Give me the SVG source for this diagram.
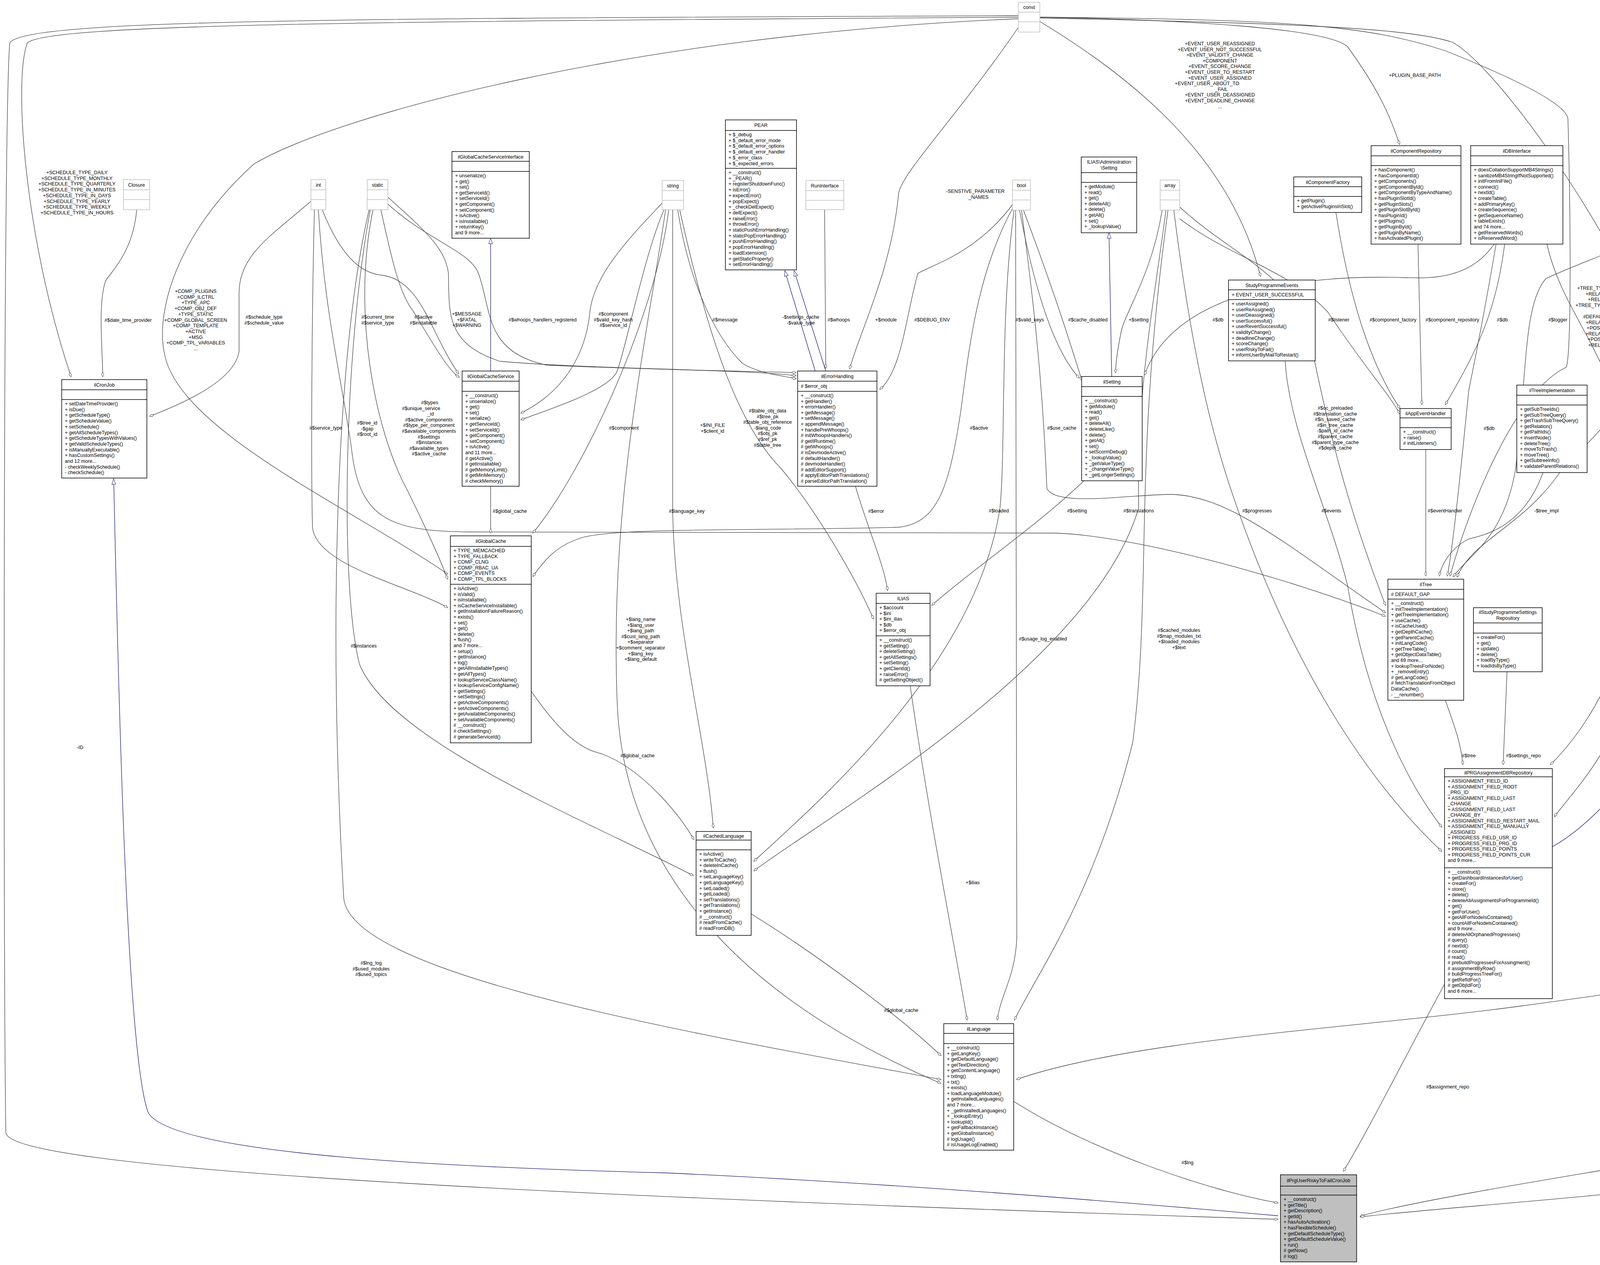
<svg xmlns="http://www.w3.org/2000/svg" width="4866" height="3239" viewBox="0 0 4866 3239">
<style>
text{font-family:"Liberation Sans",Arial,sans-serif;font-size:12.5px;fill:#000}
.h{text-anchor:middle}
.l{text-anchor:middle}
.b{fill:#fff;stroke:#000;stroke-width:1.5}
.g{fill:#fff;stroke:#bfbfbf;stroke-width:1.5}
.s{stroke:#000;stroke-width:1.5}
.sg{stroke:#bfbfbf;stroke-width:1.5}
.e{fill:none;stroke:#404040;stroke-width:1.3;marker-end:url(#d)}
.i{fill:none;stroke:#191970;stroke-width:1.3;marker-start:url(#t)}
</style>
<defs>
<marker id="d" viewBox="0 0 14 8" refX="13" refY="4" markerWidth="14" markerHeight="8" orient="auto" markerUnits="userSpaceOnUse"><path d="M1,4 L7,1 L13,4 L7,7 Z" fill="#fff" stroke="#404040"/></marker>
<marker id="t" viewBox="0 0 16 12" refX="15" refY="6" markerWidth="16" markerHeight="12" orient="auto-start-reverse" markerUnits="userSpaceOnUse"><path d="M1,1 L15,6 L1,11 Z" fill="#fff" stroke="#191970"/></marker>
</defs>
<rect width="4866" height="3239" fill="#fff"/>
<g id="connectors">
<path class="e" d="M2607,44 C1000,55 120,60 70,110 C35,200 60,600 182,965"/>
<path class="e" d="M2607,40 C900,48 60,48 25,110 C8,300 8,2500 15,2900 C20,2980 1000,3050 3272,3122"/>
<path class="e" d="M2607,48 C1600,90 850,300 650,420 C450,600 400,800 420,900 C450,1100 900,1300 1146,1470"/>
<path class="e" d="M2607,70 C2450,300 2300,450 2300,500 C2280,700 2200,850 2175,945"/>
<path class="e" d="M2662,55 C2900,200 3150,400 3227,708"/>
<path class="e" d="M2662,44 C3000,50 3400,70 3450,120 C3530,230 3560,300 3583,370"/>
<path class="e" d="M2662,44 C3300,50 3500,64 3700,130 C3950,230 4014,280 4014,306 C4022,600 4022,900 4010,940 C3880,1000 3760,1300 3712,1475"/>
<path class="e" d="M2662,46 C3300,60 3600,70 3718,108 C3850,180 4200,700 4230,900 C4260,1200 4230,1700 3969,1958"/>
<path class="e" d="M796,515 C700,600 612,650 612,750 L612,900 C600,980 450,1040 383,1066"/>
<path class="e" d="M825,537 C870,650 920,700 980,705 C1080,720 1100,850 1174,957"/>
<path class="e" d="M805,537 C798,800 796,1200 800,1350 C810,1450 1050,1500 1146,1556"/>
<path class="e" d="M815,537 C830,800 880,1000 900,1150 C920,1330 1000,1360 1200,1362 L2700,1365 C2900,1370 3300,1480 3547,1578"/>
<path class="e" d="M350,537 C340,650 280,700 270,720 C250,780 263,900 263,965"/>
<path class="e" d="M975,537 C1000,650 1020,750 1060,800 C1120,900 1150,950 1176,966"/>
<path class="e" d="M955,537 C900,800 960,1100 1040,1250 C1090,1350 1130,1440 1146,1483"/>
<path class="e" d="M948,537 C880,900 870,1500 920,1700 C1000,1900 1500,2100 1775,2242"/>
<path class="e" d="M945,537 C860,900 840,1600 880,2300 C900,2500 1800,2650 2409,2764"/>
<path class="e" d="M993,505 C1100,600 1140,640 1148,700 C1150,800 1140,880 1280,925 C1500,945 1900,945 2038,962"/>
<path class="e" d="M990,520 C1100,620 1200,640 1225,700 C1260,800 1240,900 1400,935 C1700,948 1900,950 2038,954"/>
<path class="e" d="M1695,520 C1620,600 1520,700 1510,800 C1500,900 1450,1000 1333,1058"/>
<path class="e" d="M1700,537 C1650,650 1600,900 1580,950 C1560,1000 1400,1050 1333,1075"/>
<path class="e" d="M1735,537 C1760,700 1820,850 1900,930 C1950,960 2000,960 2038,970"/>
<path class="e" d="M1740,537 C1820,900 1900,1100 2000,1200 C2100,1320 2200,1500 2236,1585"/>
<path class="e" d="M1712,537 C1680,800 1500,1200 1364,1365"/>
<path class="e" d="M1722,537 L1722,1300 C1725,1600 1810,1900 1826,2120"/>
<path class="e" d="M1704,537 C1650,900 1560,1300 1580,1800 C1600,2300 2000,2600 2409,2774"/>
<path class="e" d="M2330,1756 C2380,2100 2440,2400 2476,2612"/>
<path class="e" d="M2600,538 L2603,2400 C2600,2500 2560,2550 2553,2612"/>
<path class="e" d="M2990,538 C2900,1200 2950,1500 2900,1900 C2800,2300 2650,2500 2597,2612"/>
<path class="e" d="M1923,2340 C2100,2450 2300,2600 2409,2703"/>
<path class="e" d="M4540,611 C4550,1200 4551,1800 4551,2230 C4551,2500 4300,2520 3900,2575 C3500,2630 2900,2660 2602,2764"/>
<path class="e" d="M1360,1770 C1450,1900 1500,1920 1540,1930 C1650,1970 1750,2100 1776,2150"/>
<path class="e" d="M2596,538 C2560,800 2575,1150 2560,1300 C2500,1700 2100,2050 1930,2205"/>
<path class="e" d="M2985,538 C2950,800 2910,1000 2915,1300 C2800,1700 2100,2100 1930,2230"/>
<path class="e" d="M2610,538 C2650,750 2700,900 2763,968"/>
<path class="e" d="M2620,538 C2700,750 2740,880 2770,975"/>
<path class="e" d="M2975,538 C2950,700 2880,800 2870,850 C2860,900 2856,930 2856,955"/>
<path class="e" d="M3825,625 C3760,720 3650,712 3600,711 C3300,700 3000,760 2930,960"/>
<path class="e" d="M2595,520 C2500,650 2380,680 2350,700 C2320,800 2310,950 2252,997"/>
<path class="e" d="M2775,1231 C2650,1350 2500,1450 2385,1550"/>
<path class="e" d="M2190,1245 C2220,1350 2265,1450 2272,1512"/>
<path class="e" d="M2111,537 L2114,943"/>
<path class="e" d="M1256,1245 L1256,1365"/>
<path class="e" d="M2594,530 C2500,700 2480,900 2460,1050 C2430,1250 2400,1340 2300,1350 C1900,1360 1550,1350 1480,1380 C1420,1400 1390,1440 1364,1476"/>
<path class="e" d="M3650,1151 L3650,1475"/>
<path class="e" d="M3950,1210 C3900,1350 3800,1370 3760,1380 C3720,1400 3690,1440 3685,1475"/>
<path class="e" d="M3830,625 C3800,800 3780,900 3760,1000 C3740,1200 3720,1400 3705,1475"/>
<path class="e" d="M4396,523 C4200,620 4000,690 3957,714 C3900,780 3910,950 3880,1200 C3850,1380 3760,1420 3720,1477"/>
<path class="e" d="M4415,611 C4350,800 4250,900 4214,937 C4150,1050 4100,1100 4000,1200 C3900,1350 3770,1380 3730,1478"/>
<path class="e" d="M3020,530 C3150,650 3300,700 3350,850 C3400,1100 3450,1300 3547,1550"/>
<path class="e" d="M2615,538 C2650,800 2670,1000 2680,1250 C2700,1300 2900,1265 3000,1266 C3150,1270 3300,1400 3547,1569"/>
<path class="e" d="M3420,544 C3460,800 3520,950 3584,1046"/>
<path class="e" d="M3630,625 L3640,1036"/>
<path class="e" d="M3852,625 C3830,800 3780,900 3700,1036"/>
<path class="e" d="M3020,560 C3150,660 3300,690 3400,800 C3500,950 3550,1000 3584,1060"/>
<path class="e" d="M3700,1793 C3720,1850 3740,1900 3745,1958"/>
<path class="e" d="M3858,1720 L3848,1958"/>
<path class="e" d="M3290,924 C3300,1100 3400,1300 3450,1500 C3500,1800 3600,2000 3691,2118"/>
<path class="e" d="M3005,538 C3050,900 3100,1100 3150,1250 C3300,1700 3500,2000 3691,2180"/>
<path class="e" d="M3960,625 C4000,800 4120,900 4150,1100 C4200,1300 4200,1500 4180,1700 C4150,1900 4050,2000 3979,2091"/>
<path class="e" d="M3698,2520 C3600,2700 3500,2900 3439,2999"/>
<path class="e" d="M2595,2820 C2800,2950 3100,3050 3272,3080"/>
<path class="e" d="M4640,1347 L4625,2780 C4620,2900 4400,2950 4200,2980 C3900,3030 3600,3080 3482,3114"/>
<path class="e" d="M4750,2828 C4720,2920 4650,2990 4600,3000 C4200,3060 3700,3090 3482,3116"/>
<path class="e" d="M4452,82 L4452,383"/>
<path class="i" d="M291,1226 C300,1600 320,2700 380,2850 C450,2960 1200,2990 1700,3003 C2300,3030 2900,3080 3272,3113"/>
<path class="i" d="M2839,596 L2846,964"/>
<path class="i" d="M2009,693 L2087,950"/>
<path class="i" d="M2033,693 L2114,950"/>
<path class="i" d="M1256,610 L1256,950"/>
<path class="i" d="M4320,1764 C4250,1900 4100,2100 3974,2168"/>
<path class="i" d="M4507,613 C4570,800 4630,1000 4640,1271"/>
</g>
<g id="labels">
<text class="l" x="197" y="446"><tspan x="197">+SCHEDULE_TYPE_DAILY</tspan><tspan x="197" dy="14.7">+SCHEDULE_TYPE_MONTHLY</tspan><tspan x="197" dy="14.7">+SCHEDULE_TYPE_QUARTERLY</tspan><tspan x="197" dy="14.7">+SCHEDULE_TYPE_IN_MINUTES</tspan><tspan x="197" dy="14.7">+SCHEDULE_TYPE_IN_DAYS</tspan><tspan x="197" dy="14.7">+SCHEDULE_TYPE_YEARLY</tspan><tspan x="197" dy="14.7">+SCHEDULE_TYPE_WEEKLY</tspan><tspan x="197" dy="14.7">+SCHEDULE_TYPE_IN_HOURS</tspan></text>
<text class="l" x="328" y="824">#$date_time_provider</text>
<text class="l" x="501" y="750"><tspan x="501">+COMP_PLUGINS</tspan><tspan x="501" dy="14.7">+COMP_ILCTRL</tspan><tspan x="501" dy="14.7">+TYPE_APC</tspan><tspan x="501" dy="14.7">+COMP_OBJ_DEF</tspan><tspan x="501" dy="14.7">+TYPE_STATIC</tspan><tspan x="501" dy="14.7">+COMP_GLOBAL_SCREEN</tspan><tspan x="501" dy="14.7">+COMP_TEMPLATE</tspan><tspan x="501" dy="14.7">+ACTIVE</tspan><tspan x="501" dy="14.7">+MSG</tspan><tspan x="501" dy="14.7">+COMP_TPL_VARIABLES</tspan><tspan x="501" dy="14.7">...</tspan></text>
<text class="l" x="676" y="816"><tspan x="676">#$schedule_type</tspan><tspan x="676" dy="14.7">#$schedule_value</tspan></text>
<text class="l" x="967" y="816"><tspan x="967">#$current_time</tspan><tspan x="967" dy="14.7">#$service_type</tspan></text>
<text class="l" x="1084" y="816"><tspan x="1084">#$active</tspan><tspan x="1084" dy="14.7">#$installable</tspan></text>
<text class="l" x="1195" y="808"><tspan x="1195">+$MESSAGE</tspan><tspan x="1195" dy="14.7">+$FATAL</tspan><tspan x="1195" dy="14.7">+$WARNING</tspan></text>
<text class="l" x="1389" y="823">#$whoops_handlers_registered</text>
<text class="l" x="1570" y="808"><tspan x="1570">#$component</tspan><tspan x="1570" dy="14.7">#$valid_key_hash</tspan><tspan x="1570" dy="14.7">#$service_id</tspan></text>
<text class="l" x="1856" y="823">#$message</text>
<text class="l" x="2050" y="816"><tspan x="2050">-$settings_cache</tspan><tspan x="2050" dy="14.7">-$value_type</tspan></text>
<text class="l" x="2147" y="823">#$whoops</text>
<text class="l" x="2268" y="823">+$module</text>
<text class="l" x="2497" y="494"><tspan x="2497">-SENSTIVE_PARAMETER</tspan><tspan x="2505" dy="14.7">_NAMES</tspan></text>
<text class="l" x="3123" y="116"><tspan x="3123">+EVENT_USER_REASSIGNED</tspan><tspan x="3123" dy="14.6">+EVENT_USER_NOT_SUCCESSFUL</tspan><tspan x="3123" dy="14.6">+EVENT_VALIDITY_CHANGE</tspan><tspan x="3123" dy="14.6">+COMPONENT</tspan><tspan x="3123" dy="14.6">+EVENT_SCORE_CHANGE</tspan><tspan x="3123" dy="14.6">+EVENT_USER_TO_RESTART</tspan><tspan x="3123" dy="14.6">+EVENT_USER_ASSIGNED</tspan><tspan x="3090" dy="14.6">+EVENT_USER_ABOUT_TO</tspan><tspan x="3127" dy="14.6">_FAIL</tspan><tspan x="3123" dy="14.6">+EVENT_USER_DEASSIGNED</tspan><tspan x="3123" dy="14.6">+EVENT_DEADLINE_CHANGE</tspan><tspan x="3123" dy="14.6">...</tspan></text>
<text class="l" x="3622" y="197">+PLUGIN_BASE_PATH</text>
<text class="l" x="4480" y="197">-$logger</text>
<text class="l" x="2386" y="823">#$DEBUG_ENV</text>
<text class="l" x="2636" y="823">#$valid_keys</text>
<text class="l" x="2785" y="823">#$cache_disabled</text>
<text class="l" x="2915" y="823">+$setting</text>
<text class="l" x="3118" y="823">#$db</text>
<text class="l" x="3427" y="823">#$listener</text>
<text class="l" x="3566" y="823">#$component_factory</text>
<text class="l" x="3718" y="823">#$component_repository</text>
<text class="l" x="3846" y="823">#$db</text>
<text class="l" x="3988" y="823">#$logger</text>
<text class="l" x="4122" y="742"><tspan x="4122">+TREE_TYPE_NESTED_SET</tspan><tspan x="4122" dy="14.6">+RELATION_PARENT</tspan><tspan x="4122" dy="14.6">+RELATION_CHILD</tspan><tspan x="4122" dy="14.6">+TREE_TYPE_MATERIALIZED</tspan><tspan x="4122" dy="14.6">_PATH</tspan><tspan x="4122" dy="14.6">#DEFAULT_LANGUAGE</tspan><tspan x="4122" dy="14.6">+RELATION_SIBLING</tspan><tspan x="4122" dy="14.6">+POS_FIRST_NODE</tspan><tspan x="4122" dy="14.6">+RELATION_EQUALS</tspan><tspan x="4122" dy="14.6">+POS_LAST_NODE</tspan><tspan x="4122" dy="14.6">+RELATION_NONE</tspan><tspan x="4122" dy="14.6">...</tspan></text>
<text class="l" x="4359" y="983"><tspan x="4350">+DATE_FORMAT_ENDOFDAY</tspan><tspan x="4330" dy="14.7">+ASSIGNMENT_FIELD_USR</tspan><tspan x="4363" dy="14.7">_ID</tspan><tspan x="4359" dy="14.7">+PROGRESS_TABLE</tspan><tspan x="4305" dy="14.7">+ASSIGNMENT_FIELD</tspan><tspan x="4363" dy="14.7">_RESTART_DATE</tspan><tspan x="4355" dy="14.7">+ASSIGNMENT_TABLE</tspan><tspan x="4326" dy="14.7">+PROGRESS_FIELD_LAST</tspan><tspan x="4363" dy="14.7">_CHANGE</tspan><tspan x="4322" dy="14.7">+PROGRESS_FIELD_VQ</tspan><tspan x="4363" dy="14.7">_DATE</tspan><tspan x="4300" dy="14.7">+PROGRESS_FIELD</tspan><tspan x="4363" dy="14.7">_ASSIGNMENT_ID</tspan><tspan x="4359" dy="14.7">+PROGRESS_FIELD_DEADLINE</tspan><tspan x="4359" dy="14.7">+ASSIGNMENT_FIELD_RESTARTED</tspan><tspan x="4363" dy="14.7">_ASSIGNMENT_ID</tspan><tspan x="4359" dy="14.7">...</tspan></text>
<text class="l" x="834" y="1100">#$service_type</text>
<text class="l" x="940" y="1087"><tspan x="940">#$tree_id</tspan><tspan x="940" dy="14.6">-$gap</tspan><tspan x="940" dy="14.6">#$root_id</tspan></text>
<text class="l" x="1098" y="1035"><tspan x="1100">#$types</tspan><tspan x="1078" dy="14.6">#$unique_service</tspan><tspan x="1102" dy="14.6">_id</tspan><tspan x="1098" dy="14.6">#$active_components</tspan><tspan x="1098" dy="14.6">#$type_per_component</tspan><tspan x="1098" dy="14.6">#$available_components</tspan><tspan x="1098" dy="14.6">#$settings</tspan><tspan x="1098" dy="14.6">#$instances</tspan><tspan x="1098" dy="14.6">#$available_types</tspan><tspan x="1098" dy="14.6">#$active_cache</tspan></text>
<text class="l" x="1597" y="1100">#$component</text>
<text class="l" x="1824" y="1093"><tspan x="1824">+$INI_FILE</tspan><tspan x="1824" dy="14.6">+$client_id</tspan></text>
<text class="l" x="1965" y="1056"><tspan x="1965">#$table_obj_data</tspan><tspan x="1965" dy="14.6">#$tree_pk</tspan><tspan x="1965" dy="14.6">#$table_obj_reference</tspan><tspan x="1965" dy="14.6">-$lang_code</tspan><tspan x="1965" dy="14.6">#$obj_pk</tspan><tspan x="1965" dy="14.6">#$ref_pk</tspan><tspan x="1965" dy="14.6">#$table_tree</tspan></text>
<text class="l" x="2506" y="1100">#$active</text>
<text class="l" x="2718" y="1100">#$use_cache</text>
<text class="l" x="3418" y="1049"><tspan x="3418">#$oc_preloaded</tspan><tspan x="3418" dy="14.6">#$translation_cache</tspan><tspan x="3418" dy="14.6">#$is_saved_cache</tspan><tspan x="3418" dy="14.6">#$in_tree_cache</tspan><tspan x="3418" dy="14.6">-$path_id_cache</tspan><tspan x="3418" dy="14.6">#$parent_cache</tspan><tspan x="3418" dy="14.6">#$parent_type_cache</tspan><tspan x="3418" dy="14.6">#$depth_cache</tspan></text>
<text class="l" x="3812" y="1101">#$db</text>
<text class="l" x="4221" y="1101">#$logger</text>
<text class="l" x="1305" y="1313">#$global_cache</text>
<text class="l" x="1758" y="1313">#$language_key</text>
<text class="l" x="2243" y="1313">#$error</text>
<text class="l" x="2557" y="1312">#$loaded</text>
<text class="l" x="2757" y="1312">#$setting</text>
<text class="l" x="2915" y="1312">#$translations</text>
<text class="l" x="3218" y="1312">#$progresses</text>
<text class="l" x="3408" y="1312">#$events</text>
<text class="l" x="3699" y="1312">#$eventHandler</text>
<text class="l" x="3959" y="1312">-$tree_impl</text>
<text class="l" x="4197" y="1312">#$db</text>
<text class="l" x="1640" y="1590"><tspan x="1640">+$lang_name</tspan><tspan x="1640" dy="14.6">+$lang_user</tspan><tspan x="1640" dy="14.6">+$lang_path</tspan><tspan x="1640" dy="14.6">#$cust_lang_path</tspan><tspan x="1640" dy="14.6">+$separator</tspan><tspan x="1640" dy="14.6">+$comment_separator</tspan><tspan x="1640" dy="14.6">+$lang_key</tspan><tspan x="1640" dy="14.6">+$lang_default</tspan></text>
<text class="l" x="2670" y="1640">#$usage_log_enabled</text>
<text class="l" x="3018" y="1618"><tspan x="3018">#$cached_modules</tspan><tspan x="3018" dy="14.6">#$map_modules_txt</tspan><tspan x="3018" dy="14.6">+$loaded_modules</tspan><tspan x="3018" dy="14.6">+$text</tspan></text>
<text class="l" x="4571" y="1640">#$log</text>
<text class="l" x="931" y="1658">#$instances</text>
<text class="l" x="1632" y="1939">#$global_cache</text>
<text class="l" x="3760" y="1939">#$tree</text>
<text class="l" x="3900" y="1939">#$settings_repo</text>
<text class="l" x="205" y="1918">-ID</text>
<text class="l" x="2490" y="2264">+$ilias</text>
<text class="l" x="950" y="2470"><tspan x="950">#$lng_log</tspan><tspan x="950" dy="14.6">#$used_modules</tspan><tspan x="950" dy="14.6">#$used_topics</tspan></text>
<text class="l" x="2307" y="2591">#$global_cache</text>
<text class="l" x="4645" y="2265">#$log</text>
<text class="l" x="3706" y="2787">#$assignment_repo</text>
<text class="l" x="3040" y="2981">#$lng</text>
<text class="l" x="4690" y="2981">#$adapter</text>
</g>
<g id="const"><rect class="g" x="2607" y="6" width="55" height="76"/><line class="sg" x1="2607" y1="31" x2="2662" y2="31"/><line class="sg" x1="2607" y1="56" x2="2662" y2="56"/><text class="h" x="2634.5" y="23">const</text></g>
<g id="Logger"><rect class="g" x="4422" y="6" width="61" height="76"/><line class="sg" x1="4422" y1="31" x2="4483" y2="31"/><line class="sg" x1="4422" y1="56" x2="4483" y2="56"/><text class="h" x="4452.5" y="23">Logger</text></g>
<g id="Closure"><rect class="g" x="316" y="460" width="67" height="77"/><line class="sg" x1="316" y1="486" x2="383" y2="486"/><line class="sg" x1="316" y1="511" x2="383" y2="511"/><text class="h" x="349.5" y="478">Closure</text></g>
<g id="int"><rect class="g" x="796" y="460" width="38" height="77"/><line class="sg" x1="796" y1="486" x2="834" y2="486"/><line class="sg" x1="796" y1="511" x2="834" y2="511"/><text class="h" x="815" y="478">int</text></g>
<g id="static"><rect class="g" x="940" y="460" width="53" height="77"/><line class="sg" x1="940" y1="486" x2="993" y2="486"/><line class="sg" x1="940" y1="511" x2="993" y2="511"/><text class="h" x="966.5" y="478">static</text></g>
<g id="string"><rect class="g" x="1695" y="462" width="55" height="75"/><line class="sg" x1="1695" y1="488" x2="1750" y2="488"/><line class="sg" x1="1695" y1="513" x2="1750" y2="513"/><text class="h" x="1722.5" y="480">string</text></g>
<g id="RunInterface"><rect class="g" x="2063" y="462" width="97" height="75"/><line class="sg" x1="2063" y1="488" x2="2160" y2="488"/><line class="sg" x1="2063" y1="513" x2="2160" y2="513"/><text class="h" x="2111.5" y="480">RunInterface</text></g>
<g id="bool"><rect class="g" x="2592" y="461" width="46" height="77"/><line class="sg" x1="2592" y1="487" x2="2638" y2="487"/><line class="sg" x1="2592" y1="512" x2="2638" y2="512"/><text class="h" x="2615" y="479">bool</text></g>
<g id="array"><rect class="g" x="2970" y="461" width="50" height="77"/><line class="sg" x1="2970" y1="487" x2="3020" y2="487"/><line class="sg" x1="2970" y1="512" x2="3020" y2="512"/><text class="h" x="2995" y="479">array</text></g>
<g id="ilCronJob"><rect class="b" x="158" y="972" width="218" height="252"/><line class="s" x1="158" y1="998" x2="376" y2="998"/><line class="s" x1="158" y1="1023" x2="376" y2="1023"/><text class="h" x="267" y="990">ilCronJob</text>
<text x="166" y="1038"><tspan x="166">+ setDateTimeProvider()</tspan><tspan x="166" dy="14.7">+ isDue()</tspan><tspan x="166" dy="14.7">+ getScheduleType()</tspan><tspan x="166" dy="14.7">+ getScheduleValue()</tspan><tspan x="166" dy="14.7">+ setSchedule()</tspan><tspan x="166" dy="14.7">+ getAllScheduleTypes()</tspan><tspan x="166" dy="14.7">+ getScheduleTypesWithValues()</tspan><tspan x="166" dy="14.7">+ getValidScheduleTypes()</tspan><tspan x="166" dy="14.7">+ isManuallyExecutable()</tspan><tspan x="166" dy="14.7">+ hasCustomSettings()</tspan><tspan x="166" dy="14.7">and 12 more...</tspan><tspan x="166" dy="14.7">- checkWeeklySchedule()</tspan><tspan x="166" dy="14.7">- checkSchedule()</tspan></text></g>
<g id="ilGlobalCacheServiceInterface"><rect class="b" x="1157" y="388" width="198" height="222"/><line class="s" x1="1157" y1="413" x2="1355" y2="413"/><line class="s" x1="1157" y1="439" x2="1355" y2="439"/><text class="h" x="1256" y="406">ilGlobalCacheServiceInterface</text>
<text x="1165" y="454"><tspan x="1165">+ unserialize()</tspan><tspan x="1165" dy="14.6">+ get()</tspan><tspan x="1165" dy="14.6">+ set()</tspan><tspan x="1165" dy="14.6">+ getServiceId()</tspan><tspan x="1165" dy="14.6">+ setServiceId()</tspan><tspan x="1165" dy="14.6">+ getComponent()</tspan><tspan x="1165" dy="14.6">+ setComponent()</tspan><tspan x="1165" dy="14.6">+ isActive()</tspan><tspan x="1165" dy="14.6">+ isInstallable()</tspan><tspan x="1165" dy="14.6">+ returnKey()</tspan><tspan x="1165" dy="14.6">and 9 more...</tspan></text></g>
<g id="PEAR"><rect class="b" x="1857" y="307" width="182" height="384"/><line class="s" x1="1857" y1="334" x2="2039" y2="334"/><line class="s" x1="1857" y1="431" x2="2039" y2="431"/><text class="h" x="1948" y="325">PEAR</text>
<text x="1865" y="349"><tspan x="1865">+ $_debug</tspan><tspan x="1865" dy="14.7">+ $_default_error_mode</tspan><tspan x="1865" dy="14.7">+ $_default_error_options</tspan><tspan x="1865" dy="14.7">+ $_default_error_handler</tspan><tspan x="1865" dy="14.7">+ $_error_class</tspan><tspan x="1865" dy="14.7">+ $_expected_errors</tspan></text>
<text x="1865" y="446"><tspan x="1865">+ __construct()</tspan><tspan x="1865" dy="14.7">+ _PEAR()</tspan><tspan x="1865" dy="14.7">+ registerShutdownFunc()</tspan><tspan x="1865" dy="14.7">+ isError()</tspan><tspan x="1865" dy="14.7">+ expectError()</tspan><tspan x="1865" dy="14.7">+ popExpect()</tspan><tspan x="1865" dy="14.7">+ _checkDelExpect()</tspan><tspan x="1865" dy="14.7">+ delExpect()</tspan><tspan x="1865" dy="14.7">+ raiseError()</tspan><tspan x="1865" dy="14.7">+ throwError()</tspan><tspan x="1865" dy="14.7">+ staticPushErrorHandling()</tspan><tspan x="1865" dy="14.7">+ staticPopErrorHandling()</tspan><tspan x="1865" dy="14.7">+ pushErrorHandling()</tspan><tspan x="1865" dy="14.7">+ popErrorHandling()</tspan><tspan x="1865" dy="14.7">+ loadExtension()</tspan><tspan x="1865" dy="14.7">+ getStaticProperty()</tspan><tspan x="1865" dy="14.7">+ setErrorHandling()</tspan></text></g>
<g id="ilGlobalCacheService"><rect class="b" x="1183" y="950" width="146" height="295"/><line class="s" x1="1183" y1="976" x2="1329" y2="976"/><line class="s" x1="1183" y1="1002" x2="1329" y2="1002"/><text class="h" x="1256" y="968">ilGlobalCacheService</text>
<text x="1191" y="1017"><tspan x="1191">+ __construct()</tspan><tspan x="1191" dy="14.6">+ unserialize()</tspan><tspan x="1191" dy="14.6">+ get()</tspan><tspan x="1191" dy="14.6">+ set()</tspan><tspan x="1191" dy="14.6">+ serialize()</tspan><tspan x="1191" dy="14.6">+ getServiceId()</tspan><tspan x="1191" dy="14.6">+ setServiceId()</tspan><tspan x="1191" dy="14.6">+ getComponent()</tspan><tspan x="1191" dy="14.6">+ setComponent()</tspan><tspan x="1191" dy="14.6">+ isActive()</tspan><tspan x="1191" dy="14.6">and 11 more...</tspan><tspan x="1191" dy="14.6"># getActive()</tspan><tspan x="1191" dy="14.6"># getInstallable()</tspan><tspan x="1191" dy="14.6"># getMemoryLimit()</tspan><tspan x="1191" dy="14.6"># getMinMemory()</tspan><tspan x="1191" dy="14.6"># checkMemory()</tspan></text></g>
<g id="ilErrorHandling"><rect class="b" x="2042" y="950" width="203" height="295"/><line class="s" x1="2042" y1="976" x2="2245" y2="976"/><line class="s" x1="2042" y1="1002" x2="2245" y2="1002"/><text class="h" x="2143.5" y="968">ilErrorHandling</text>
<text x="2050" y="993"># $error_obj</text>
<text x="2050" y="1017"><tspan x="2050">+ __construct()</tspan><tspan x="2050" dy="14.6">+ getHandler()</tspan><tspan x="2050" dy="14.6">+ errorHandler()</tspan><tspan x="2050" dy="14.6">+ getMessage()</tspan><tspan x="2050" dy="14.6">+ setMessage()</tspan><tspan x="2050" dy="14.6">+ appendMessage()</tspan><tspan x="2050" dy="14.6">+ handlePreWhoops()</tspan><tspan x="2050" dy="14.6"># initWhoopsHandlers()</tspan><tspan x="2050" dy="14.6"># getIlRuntime()</tspan><tspan x="2050" dy="14.6"># getWhoops()</tspan><tspan x="2050" dy="14.6"># isDevmodeActive()</tspan><tspan x="2050" dy="14.6"># defaultHandler()</tspan><tspan x="2050" dy="14.6"># devmodeHandler()</tspan><tspan x="2050" dy="14.6"># addEditorSupport()</tspan><tspan x="2050" dy="14.6"># applyEditorPathTranslations()</tspan><tspan x="2050" dy="14.6"># parseEditorPathTranslation()</tspan></text></g>
<g id="ILIASAdministrationSetting"><rect class="b" x="2768" y="402" width="142" height="194"/><line class="s" x1="2768" y1="442" x2="2910" y2="442"/><line class="s" x1="2768" y1="467" x2="2910" y2="467"/><text class="h" x="2839" y="419"><tspan x="2839">ILIAS\Administration</tspan><tspan x="2839" dy="15">\Setting</tspan></text>
<text x="2776" y="482"><tspan x="2776">+ getModule()</tspan><tspan x="2776" dy="14.6">+ read()</tspan><tspan x="2776" dy="14.6">+ get()</tspan><tspan x="2776" dy="14.6">+ deleteAll()</tspan><tspan x="2776" dy="14.6">+ delete()</tspan><tspan x="2776" dy="14.6">+ getAll()</tspan><tspan x="2776" dy="14.6">+ set()</tspan><tspan x="2776" dy="14.6">+ _lookupValue()</tspan></text></g>
<g id="StudyProgrammeEvents"><rect class="b" x="3145" y="717" width="222" height="207"/><line class="s" x1="3145" y1="742" x2="3367" y2="742"/><line class="s" x1="3145" y1="767" x2="3367" y2="767"/><text class="h" x="3256" y="735">StudyProgrammeEvents</text>
<text x="3153" y="759">+ EVENT_USER_SUCCESSFUL</text>
<text x="3153" y="782"><tspan x="3153">+ userAssigned()</tspan><tspan x="3153" dy="14.6">+ userReAssigned()</tspan><tspan x="3153" dy="14.6">+ userDeassigned()</tspan><tspan x="3153" dy="14.6">+ userSuccessful()</tspan><tspan x="3153" dy="14.6">+ userRevertSuccessful()</tspan><tspan x="3153" dy="14.6">+ validityChange()</tspan><tspan x="3153" dy="14.6">+ deadlineChange()</tspan><tspan x="3153" dy="14.6">+ scoreChange()</tspan><tspan x="3153" dy="14.6">+ userRiskyToFail()</tspan><tspan x="3153" dy="14.6">+ informUserByMailToRestart()</tspan></text></g>
<g id="ilComponentFactory"><rect class="b" x="3312" y="453" width="174" height="91"/><line class="s" x1="3312" y1="478" x2="3486" y2="478"/><line class="s" x1="3312" y1="503" x2="3486" y2="503"/><text class="h" x="3399" y="471">ilComponentFactory</text>
<text x="3320" y="518"><tspan x="3320">+ getPlugin()</tspan><tspan x="3320" dy="14.6">+ getActivePluginsInSlot()</tspan></text></g>
<g id="ilComponentRepository"><rect class="b" x="3510" y="373" width="230" height="252"/><line class="s" x1="3510" y1="399" x2="3740" y2="399"/><line class="s" x1="3510" y1="424" x2="3740" y2="424"/><text class="h" x="3625" y="391">ilComponentRepository</text>
<text x="3518" y="439"><tspan x="3518">+ hasComponent()</tspan><tspan x="3518" dy="14.6">+ hasComponentId()</tspan><tspan x="3518" dy="14.6">+ getComponents()</tspan><tspan x="3518" dy="14.6">+ getComponentById()</tspan><tspan x="3518" dy="14.6">+ getComponentByTypeAndName()</tspan><tspan x="3518" dy="14.6">+ hasPluginSlotId()</tspan><tspan x="3518" dy="14.6">+ getPluginSlots()</tspan><tspan x="3518" dy="14.6">+ getPluginSlotById()</tspan><tspan x="3518" dy="14.6">+ hasPluginId()</tspan><tspan x="3518" dy="14.6">+ getPlugins()</tspan><tspan x="3518" dy="14.6">+ getPluginById()</tspan><tspan x="3518" dy="14.6">+ getPluginByName()</tspan><tspan x="3518" dy="14.6">+ hasActivatedPlugin()</tspan></text></g>
<g id="ilDBInterface"><rect class="b" x="3765" y="373" width="236" height="252"/><line class="s" x1="3765" y1="399" x2="4001" y2="399"/><line class="s" x1="3765" y1="424" x2="4001" y2="424"/><text class="h" x="3883" y="391">ilDBInterface</text>
<text x="3773" y="439"><tspan x="3773">+ doesCollationSupportMB4Strings()</tspan><tspan x="3773" dy="14.6">+ sanitizeMB4StringIfNotSupported()</tspan><tspan x="3773" dy="14.6">+ initFromIniFile()</tspan><tspan x="3773" dy="14.6">+ connect()</tspan><tspan x="3773" dy="14.6">+ nextId()</tspan><tspan x="3773" dy="14.6">+ createTable()</tspan><tspan x="3773" dy="14.6">+ addPrimaryKey()</tspan><tspan x="3773" dy="14.6">+ createSequence()</tspan><tspan x="3773" dy="14.6">+ getSequenceName()</tspan><tspan x="3773" dy="14.6">+ tableExists()</tspan><tspan x="3773" dy="14.6">and 74 more...</tspan><tspan x="3773" dy="14.6">+ getReservedWords()</tspan><tspan x="3773" dy="14.6">+ isReservedWord()</tspan></text></g>
<g id="ilLogger"><rect class="b" x="4396" y="388" width="111" height="223"/><line class="s" x1="4396" y1="414" x2="4507" y2="414"/><line class="s" x1="4396" y1="440" x2="4507" y2="440"/><text class="h" x="4451.5" y="406">ilLogger</text>
<text x="4404" y="455"><tspan x="4404">+ __construct()</tspan><tspan x="4404" dy="14.6">+ isHandling()</tspan><tspan x="4404" dy="14.6">+ log()</tspan><tspan x="4404" dy="14.6">+ dump()</tspan><tspan x="4404" dy="14.6">+ debug()</tspan><tspan x="4404" dy="14.6">+ info()</tspan><tspan x="4404" dy="14.6">+ notice()</tspan><tspan x="4404" dy="14.6">+ warning()</tspan><tspan x="4404" dy="14.6">+ error()</tspan><tspan x="4404" dy="14.6">+ critical()</tspan><tspan x="4404" dy="14.6">and 7 more...</tspan></text></g>
<g id="ilSetting"><rect class="b" x="2769" y="964" width="155" height="267"/><line class="s" x1="2769" y1="990" x2="2924" y2="990"/><line class="s" x1="2769" y1="1015" x2="2924" y2="1015"/><text class="h" x="2846.5" y="982">ilSetting</text>
<text x="2777" y="1030"><tspan x="2777">+ __construct()</tspan><tspan x="2777" dy="14.6">+ getModule()</tspan><tspan x="2777" dy="14.6">+ read()</tspan><tspan x="2777" dy="14.6">+ get()</tspan><tspan x="2777" dy="14.6">+ deleteAll()</tspan><tspan x="2777" dy="14.6">+ deleteLike()</tspan><tspan x="2777" dy="14.6">+ delete()</tspan><tspan x="2777" dy="14.6">+ getAll()</tspan><tspan x="2777" dy="14.6">+ set()</tspan><tspan x="2777" dy="14.6">+ setScormDebug()</tspan><tspan x="2777" dy="14.6">+ _lookupValue()</tspan><tspan x="2777" dy="14.6">+ _getValueType()</tspan><tspan x="2777" dy="14.6">+ _changeValueType()</tspan><tspan x="2777" dy="14.6">+ _getLongerSettings()</tspan></text></g>
<g id="ilAppEventHandler"><rect class="b" x="3584" y="1046" width="131" height="105"/><line class="s" x1="3584" y1="1070" x2="3715" y2="1070"/><line class="s" x1="3584" y1="1095" x2="3715" y2="1095"/><text class="h" x="3649.5" y="1063">ilAppEventHandler</text>
<text x="3592" y="1110"><tspan x="3592">+ __construct()</tspan><tspan x="3592" dy="14.6">+ raise()</tspan><tspan x="3592" dy="14.6"># initListeners()</tspan></text></g>
<g id="ilTree"><rect class="b" x="3553" y="1483" width="194" height="310"/><line class="s" x1="3553" y1="1509" x2="3747" y2="1509"/><line class="s" x1="3553" y1="1534" x2="3747" y2="1534"/><text class="h" x="3650" y="1501">ilTree</text>
<text x="3561" y="1526"># DEFAULT_GAP</text>
<text x="3561" y="1549"><tspan x="3561">+ __construct()</tspan><tspan x="3561" dy="14.6">+ initTreeImplementation()</tspan><tspan x="3561" dy="14.6">+ getTreeImplementation()</tspan><tspan x="3561" dy="14.6">+ useCache()</tspan><tspan x="3561" dy="14.6">+ isCacheUsed()</tspan><tspan x="3561" dy="14.6">+ getDepthCache()</tspan><tspan x="3561" dy="14.6">+ getParentCache()</tspan><tspan x="3561" dy="14.6">+ initLangCode()</tspan><tspan x="3561" dy="14.6">+ getTreeTable()</tspan><tspan x="3561" dy="14.6">+ getObjectDataTable()</tspan><tspan x="3561" dy="14.6">and 69 more...</tspan><tspan x="3561" dy="14.6">+ lookupTreesForNode()</tspan><tspan x="3561" dy="14.6">+ _removeEntry()</tspan><tspan x="3561" dy="14.6"># getLangCode()</tspan><tspan x="3561" dy="14.6"># fetchTranslationFromObject</tspan><tspan x="3561" dy="14.6">DataCache()</tspan><tspan x="3561" dy="14.6">- __renumber()</tspan></text></g>
<g id="ilTreeImplementation"><rect class="b" x="3883" y="986" width="180" height="224"/><line class="s" x1="3883" y1="1012" x2="4063" y2="1012"/><line class="s" x1="3883" y1="1037" x2="4063" y2="1037"/><text class="h" x="3973" y="1004">ilTreeImplementation</text>
<text x="3891" y="1052"><tspan x="3891">+ getSubTreeIds()</tspan><tspan x="3891" dy="14.6">+ getSubTreeQuery()</tspan><tspan x="3891" dy="14.6">+ getTrashSubTreeQuery()</tspan><tspan x="3891" dy="14.6">+ getRelation()</tspan><tspan x="3891" dy="14.6">+ getPathIds()</tspan><tspan x="3891" dy="14.6">+ insertNode()</tspan><tspan x="3891" dy="14.6">+ deleteTree()</tspan><tspan x="3891" dy="14.6">+ moveToTrash()</tspan><tspan x="3891" dy="14.6">+ moveTree()</tspan><tspan x="3891" dy="14.6">+ getSubtreeInfo()</tspan><tspan x="3891" dy="14.6">+ validateParentRelations()</tspan></text></g>
<g id="ilComponentLogger"><rect class="b" x="4572" y="1271" width="135" height="76"/><line class="s" x1="4572" y1="1297" x2="4707" y2="1297"/><line class="s" x1="4572" y1="1322" x2="4707" y2="1322"/><text class="h" x="4639.5" y="1289">ilComponentLogger</text></g>
<g id="ilStudyProgrammeSettingsRepository"><rect class="b" x="3772" y="1556" width="176" height="164"/><line class="s" x1="3772" y1="1595" x2="3948" y2="1595"/><line class="s" x1="3772" y1="1621" x2="3948" y2="1621"/><text class="h" x="3860" y="1572"><tspan x="3860">ilStudyProgrammeSettings</tspan><tspan x="3860" dy="15">Repository</tspan></text>
<text x="3780" y="1636"><tspan x="3780">+ createFor()</tspan><tspan x="3780" dy="14.6">+ get()</tspan><tspan x="3780" dy="14.6">+ update()</tspan><tspan x="3780" dy="14.6">+ delete()</tspan><tspan x="3780" dy="14.6">+ loadByType()</tspan><tspan x="3780" dy="14.6">+ loadIdsByType()</tspan></text></g>
<g id="PRGAssignmentRepository"><rect class="b" x="4238" y="1512" width="265" height="252"/><line class="s" x1="4238" y1="1537" x2="4503" y2="1537"/><line class="s" x1="4238" y1="1562" x2="4503" y2="1562"/><text class="h" x="4370.5" y="1530">PRGAssignmentRepository</text>
<text x="4246" y="1577"><tspan x="4246">+ createFor()</tspan><tspan x="4246" dy="14.6">+ get()</tspan><tspan x="4246" dy="14.6">+ store()</tspan><tspan x="4246" dy="14.6">+ delete()</tspan><tspan x="4246" dy="14.6">+ deleteAllAssignmentsForProgrammeId()</tspan><tspan x="4246" dy="14.6">+ getForUser()</tspan><tspan x="4246" dy="14.6">+ getAllForNodeIsContained()</tspan><tspan x="4246" dy="14.6">+ countAllForNodeIsContained()</tspan><tspan x="4246" dy="14.6">+ getAllForSpecificNode()</tspan><tspan x="4246" dy="14.6">+ getPassedDeadline()</tspan><tspan x="4246" dy="14.6">+ getDashboardInstancesforUser()</tspan><tspan x="4246" dy="14.6">+ getAboutToExpire()</tspan><tspan x="4246" dy="14.6">+ getExpiredAndNotInvalidated()</tspan></text></g>
<g id="ilPRGAssignmentDBRepository"><rect class="b" x="3698" y="1968" width="276" height="589"/><line class="s" x1="3698" y1="1989" x2="3974" y2="1989"/><line class="s" x1="3698" y1="2222" x2="3974" y2="2222"/><text class="h" x="3836" y="1983">ilPRGAssignmentDBRepository</text>
<text x="3706" y="2004"><tspan x="3706">+ ASSIGNMENT_FIELD_ID</tspan><tspan x="3706" dy="14.5">+ ASSIGNMENT_FIELD_ROOT</tspan><tspan x="3706" dy="14.5">_PRG_ID</tspan><tspan x="3706" dy="14.5">+ ASSIGNMENT_FIELD_LAST</tspan><tspan x="3706" dy="14.5">_CHANGE</tspan><tspan x="3706" dy="14.5">+ ASSIGNMENT_FIELD_LAST</tspan><tspan x="3706" dy="14.5">_CHANGE_BY</tspan><tspan x="3706" dy="14.5">+ ASSIGNMENT_FIELD_RESTART_MAIL</tspan><tspan x="3706" dy="14.5">+ ASSIGNMENT_FIELD_MANUALLY</tspan><tspan x="3706" dy="14.5">_ASSIGNED</tspan><tspan x="3706" dy="14.5">+ PROGRESS_FIELD_USR_ID</tspan><tspan x="3706" dy="14.5">+ PROGRESS_FIELD_PRG_ID</tspan><tspan x="3706" dy="14.5">+ PROGRESS_FIELD_POINTS</tspan><tspan x="3706" dy="14.5">+ PROGRESS_FIELD_POINTS_CUR</tspan><tspan x="3706" dy="14.5">and 9 more...</tspan></text>
<text x="3706" y="2237"><tspan x="3706">+ __construct()</tspan><tspan x="3706" dy="14.5">+ getDashboardInstancesforUser()</tspan><tspan x="3706" dy="14.5">+ createFor()</tspan><tspan x="3706" dy="14.5">+ store()</tspan><tspan x="3706" dy="14.5">+ delete()</tspan><tspan x="3706" dy="14.5">+ deleteAllAssignmentsForProgrammeId()</tspan><tspan x="3706" dy="14.5">+ get()</tspan><tspan x="3706" dy="14.5">+ getForUser()</tspan><tspan x="3706" dy="14.5">+ getAllForNodeIsContained()</tspan><tspan x="3706" dy="14.5">+ countAllForNodeIsContained()</tspan><tspan x="3706" dy="14.5">and 9 more...</tspan><tspan x="3706" dy="14.5"># deleteAllOrphanedProgresses()</tspan><tspan x="3706" dy="14.5"># query()</tspan><tspan x="3706" dy="14.5"># nextId()</tspan><tspan x="3706" dy="14.5"># count()</tspan><tspan x="3706" dy="14.5"># read()</tspan><tspan x="3706" dy="14.5"># prebuildProgressesForAssingment()</tspan><tspan x="3706" dy="14.5"># assignmentByRow()</tspan><tspan x="3706" dy="14.5"># buildProgressTreeFor()</tspan><tspan x="3706" dy="14.5"># getRefIdFor()</tspan><tspan x="3706" dy="14.5"># getObjIdFor()</tspan><tspan x="3706" dy="14.5">and 6 more...</tspan></text></g>
<g id="ilPrgCronJobAdapter"><rect class="b" x="4662" y="2738" width="175" height="90"/><line class="s" x1="4662" y1="2764" x2="4837" y2="2764"/><line class="s" x1="4662" y1="2789" x2="4837" y2="2789"/><text class="h" x="4749.5" y="2756">ilPrgCronJobAdapter</text>
<text x="4670" y="2804"><tspan x="4670">+ getRelevantProgrammeIds()</tspan><tspan x="4670" dy="14.6">+ actOnSingleAssignment()</tspan></text></g>
<g id="ilGlobalCache"><rect class="b" x="1153" y="1372" width="207" height="530"/><line class="s" x1="1153" y1="1399" x2="1360" y2="1399"/><line class="s" x1="1153" y1="1496" x2="1360" y2="1496"/><text class="h" x="1256.5" y="1390">ilGlobalCache</text>
<text x="1161" y="1414"><tspan x="1161">+ TYPE_MEMCACHED</tspan><tspan x="1161" dy="14.6">+ TYPE_FALLBACK</tspan><tspan x="1161" dy="14.6">+ COMP_CLNG</tspan><tspan x="1161" dy="14.6">+ COMP_RBAC_UA</tspan><tspan x="1161" dy="14.6">+ COMP_EVENTS</tspan><tspan x="1161" dy="14.6">+ COMP_TPL_BLOCKS</tspan></text>
<text x="1161" y="1511"><tspan x="1161">+ isActive()</tspan><tspan x="1161" dy="14.6">+ isValid()</tspan><tspan x="1161" dy="14.6">+ isInstallable()</tspan><tspan x="1161" dy="14.6">+ isCacheServiceInstallable()</tspan><tspan x="1161" dy="14.6">+ getInstallationFailureReason()</tspan><tspan x="1161" dy="14.6">+ exists()</tspan><tspan x="1161" dy="14.6">+ set()</tspan><tspan x="1161" dy="14.6">+ get()</tspan><tspan x="1161" dy="14.6">+ delete()</tspan><tspan x="1161" dy="14.6">+ flush()</tspan><tspan x="1161" dy="14.6">and 7 more...</tspan><tspan x="1161" dy="14.6">+ setup()</tspan><tspan x="1161" dy="14.6">+ getInstance()</tspan><tspan x="1161" dy="14.6">+ log()</tspan><tspan x="1161" dy="14.6">+ getAllInstallableTypes()</tspan><tspan x="1161" dy="14.6">+ getAllTypes()</tspan><tspan x="1161" dy="14.6">+ lookupServiceClassName()</tspan><tspan x="1161" dy="14.6">+ lookupServiceConfigName()</tspan><tspan x="1161" dy="14.6">+ getSettings()</tspan><tspan x="1161" dy="14.6">+ setSettings()</tspan><tspan x="1161" dy="14.6">+ getActiveComponents()</tspan><tspan x="1161" dy="14.6">+ setActiveComponents()</tspan><tspan x="1161" dy="14.6">+ getAvailableComponents()</tspan><tspan x="1161" dy="14.6">+ setAvailableComponents()</tspan><tspan x="1161" dy="14.6"># __construct()</tspan><tspan x="1161" dy="14.6"># checkSettings()</tspan><tspan x="1161" dy="14.6"># generateServiceId()</tspan></text></g>
<g id="ILIAS"><rect class="b" x="2243" y="1519" width="138" height="237"/><line class="s" x1="2243" y1="1545" x2="2381" y2="1545"/><line class="s" x1="2243" y1="1628" x2="2381" y2="1628"/><text class="h" x="2312" y="1537">ILIAS</text>
<text x="2251" y="1560"><tspan x="2251">+ $account</tspan><tspan x="2251" dy="14.6">+ $ini</tspan><tspan x="2251" dy="14.6">+ $ini_ilias</tspan><tspan x="2251" dy="14.6">+ $db</tspan><tspan x="2251" dy="14.6">+ $error_obj</tspan></text>
<text x="2251" y="1643"><tspan x="2251">+ __construct()</tspan><tspan x="2251" dy="14.6">+ getSetting()</tspan><tspan x="2251" dy="14.6">+ deleteSetting()</tspan><tspan x="2251" dy="14.6">+ getAllSettings()</tspan><tspan x="2251" dy="14.6">+ setSetting()</tspan><tspan x="2251" dy="14.6">+ getClientId()</tspan><tspan x="2251" dy="14.6">+ raiseError()</tspan><tspan x="2251" dy="14.6"># getSettingObject()</tspan></text></g>
<g id="ilCachedLanguage"><rect class="b" x="1782" y="2129" width="141" height="266"/><line class="s" x1="1782" y1="2151" x2="1923" y2="2151"/><line class="s" x1="1782" y1="2176" x2="1923" y2="2176"/><text class="h" x="1852.5" y="2145">ilCachedLanguage</text>
<text x="1790" y="2191"><tspan x="1790">+ isActive()</tspan><tspan x="1790" dy="14.6">+ writeToCache()</tspan><tspan x="1790" dy="14.6">+ deleteInCache()</tspan><tspan x="1790" dy="14.6">+ flush()</tspan><tspan x="1790" dy="14.6">+ setLanguageKey()</tspan><tspan x="1790" dy="14.6">+ getLanguageKey()</tspan><tspan x="1790" dy="14.6">+ setLoaded()</tspan><tspan x="1790" dy="14.6">+ getLoaded()</tspan><tspan x="1790" dy="14.6">+ setTranslations()</tspan><tspan x="1790" dy="14.6">+ getTranslations()</tspan><tspan x="1790" dy="14.6">+ getInstance()</tspan><tspan x="1790" dy="14.6"># __construct()</tspan><tspan x="1790" dy="14.6"># readFromCache()</tspan><tspan x="1790" dy="14.6"># readFromDB()</tspan></text></g>
<g id="ilLanguage"><rect class="b" x="2416" y="2621" width="179" height="324"/><line class="s" x1="2416" y1="2646" x2="2595" y2="2646"/><line class="s" x1="2416" y1="2672" x2="2595" y2="2672"/><text class="h" x="2505.5" y="2639">ilLanguage</text>
<text x="2424" y="2687"><tspan x="2424">+ __construct()</tspan><tspan x="2424" dy="14.6">+ getLangKey()</tspan><tspan x="2424" dy="14.6">+ getDefaultLanguage()</tspan><tspan x="2424" dy="14.6">+ getTextDirection()</tspan><tspan x="2424" dy="14.6">+ getContentLanguage()</tspan><tspan x="2424" dy="14.6">+ txtlng()</tspan><tspan x="2424" dy="14.6">+ txt()</tspan><tspan x="2424" dy="14.6">+ exists()</tspan><tspan x="2424" dy="14.6">+ loadLanguageModule()</tspan><tspan x="2424" dy="14.6">+ getInstalledLanguages()</tspan><tspan x="2424" dy="14.6">and 7 more...</tspan><tspan x="2424" dy="14.6">+ _getInstalledLanguages()</tspan><tspan x="2424" dy="14.6">+ _lookupEntry()</tspan><tspan x="2424" dy="14.6">+ lookupId()</tspan><tspan x="2424" dy="14.6">+ getFallbackInstance()</tspan><tspan x="2424" dy="14.6">+ getGlobalInstance()</tspan><tspan x="2424" dy="14.6"># logUsage()</tspan><tspan x="2424" dy="14.6"># isUsageLogEnabled()</tspan></text></g>
<g id="ilPrgUserRiskyToFailCronJob"><rect x="3278" y="3008" width="195" height="223" fill="#bfbfbf" stroke="#000" stroke-width="1.5"/><line class="s" x1="3278" y1="3037" x2="3473" y2="3037"/><line class="s" x1="3278" y1="3060" x2="3473" y2="3060"/><text class="h" x="3375.5" y="3027">ilPrgUserRiskyToFailCronJob</text>
<text x="3286" y="3075"><tspan x="3286">+ __construct()</tspan><tspan x="3286" dy="14.6">+ getTitle()</tspan><tspan x="3286" dy="14.6">+ getDescription()</tspan><tspan x="3286" dy="14.6">+ getId()</tspan><tspan x="3286" dy="14.6">+ hasAutoActivation()</tspan><tspan x="3286" dy="14.6">+ hasFlexibleSchedule()</tspan><tspan x="3286" dy="14.6">+ getDefaultScheduleType()</tspan><tspan x="3286" dy="14.6">+ getDefaultScheduleValue()</tspan><tspan x="3286" dy="14.6">+ run()</tspan><tspan x="3286" dy="14.6"># getNow()</tspan><tspan x="3286" dy="14.6"># log()</tspan></text></g>
</svg>
